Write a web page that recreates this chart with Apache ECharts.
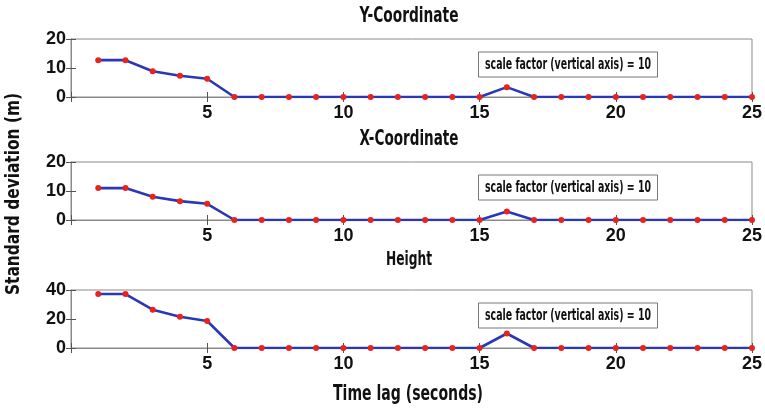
<!DOCTYPE html>
<html><head><meta charset="utf-8">
<script src="https://cdn.jsdelivr.net/npm/echarts@6/dist/echarts.min.js"></script>
<style>html,body{margin:0;padding:0;background:#fff}#c{width:765px;height:410px}</style>
</head><body><div id="c"></div>
<script>
const timeLag = [1,2,3,4,5,6,7,8,9,10,11,12,13,14,15,16,17,18,19,20,21,22,23,24,25];
const yCoord = [12.7,12.7,8.9,7.3,6.3,0,0,0,0,0,0,0,0,0,0,3.4,0,0,0,0,0,0,0,0,0];
const xCoord = [11.0,11.0,8.0,6.5,5.6,0,0,0,0,0,0,0,0,0,0,2.9,0,0,0,0,0,0,0,0,0];
const height = [37.2,37.2,26.4,21.6,18.6,0,0,0,0,0,0,0,0,0,0,10.0,0,0,0,0,0,0,0,0,0];
const panelTitles = ['Y-Coordinate','X-Coordinate','Height'];
const yMax = [20,20,40];
const yInterval = [10,10,20];
const xTicks = [5,10,15,20,25];
const noteText = 'scale factor (vertical axis) = 10';
const xName = 'Time lag (seconds)';
const yName = 'Standard deviation (m)';

const heavy = '"DejaVu Sans",sans-serif';
const mctx = document.createElement('canvas').getContext('2d');
// condensed heavy text: a bold font squeezed horizontally to the width seen in the picture
function squeezed(text, size, w, extra) {
  const font = 'bold ' + size + 'px ' + heavy;
  mctx.font = font;
  const sx = w / mctx.measureText(text).width;
  return Object.assign({type: 'text', scaleX: sx, scaleY: 1,
    style: {text, font, fill: '#111', textAlign: 'center', textVerticalAlign: 'middle'}}, extra);
}

const series = [yCoord, xCoord, height];
const tops = [39, 162, 290];
const titleY = [16, 139, 260];
const titleW = [99, 99, 46];
const titleS = [22, 22, 20];
const gh = 58;
const grid = [], xAxis = [], yAxis = [], ser = [], graphic = [];
const tickFont = 'Liberation Sans, Arial, sans-serif';
series.forEach((vals, i) => {
  grid.push({left: 71, right: 13, top: tops[i], height: gh, show: true, borderColor: '#8a8a8a', borderWidth: 1});
  const xa = {gridIndex: i, type: 'value', min: 0, max: 25, interval: 5,
    axisLine: {show: true, lineStyle: {color: '#8a8a8a'}},
    axisTick: {show: true, inside: true, length: 5, lineStyle: {color: '#555'}},
    splitLine: {show: false}};
  xAxis.push(Object.assign({}, xa, {position: 'bottom',
    axisLabel: {show: true, color: '#111', fontSize: 18, fontWeight: 'bold', fontFamily: tickFont, margin: 7,
      formatter: v => xTicks.includes(v) ? String(v) : ''}}));
  xAxis.push(Object.assign({}, xa, {position: 'top', axisLabel: {show: false}}));
  const ya = {gridIndex: i, type: 'value', min: 0, max: yMax[i], interval: yInterval[i],
    axisLine: {show: true, lineStyle: {color: '#8a8a8a'}},
    axisTick: {show: true, inside: true, length: 5, lineStyle: {color: '#555'}},
    splitLine: {show: false}};
  yAxis.push(Object.assign({}, ya, {position: 'left',
    axisLabel: {show: true, color: '#111', fontSize: 18, fontWeight: 'bold', fontFamily: tickFont, margin: 5}}));
  yAxis.push(Object.assign({}, ya, {position: 'right', axisLabel: {show: false}}));
  ser.push({type: 'line', xAxisIndex: 2*i, yAxisIndex: 2*i,
    data: timeLag.map((t, k) => [t, vals[k]]),
    symbol: 'circle', symbolSize: 6, itemStyle: {color: '#e8231c'},
    lineStyle: {color: '#2b38b5', width: 2.6}, animation: false, z: 3});
  graphic.push(squeezed(panelTitles[i], titleS[i], titleW[i], {x: 409, y: titleY[i]}));
  const by = tops[i] + 12.5;
  graphic.push({type: 'rect', shape: {x: 478.5, y: by + 0.5, width: 179, height: 25}, style: {fill: '#fff', stroke: '#777', lineWidth: 1}, z: 10});
  graphic.push(squeezed(noteText, 16, 166, {x: 568, y: by + 13, z: 11}));
});
graphic.push(squeezed(xName, 21, 150, {x: 408, y: 395}));
graphic.push(squeezed(yName, 19, 202, {x: 14, y: 194, rotation: Math.PI/2}));
const chart = echarts.init(document.getElementById('c'));
chart.setOption({animation: false, backgroundColor: '#fff', grid, xAxis, yAxis, series: ser, graphic});
</script></body></html>
